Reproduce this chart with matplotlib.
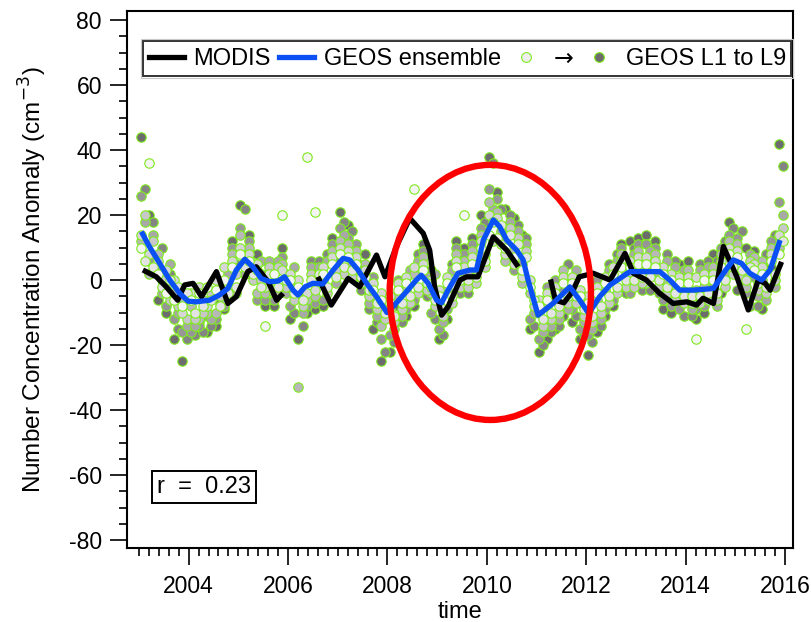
import numpy as np
import matplotlib
matplotlib.use('Agg')
import matplotlib.pyplot as plt
from matplotlib.patches import Ellipse, Rectangle
from matplotlib.lines import Line2D
from matplotlib.ticker import FixedLocator

plt.rcParams['font.family'] = ['Liberation Sans', 'DejaVu Sans']

# ---------------- data ----------------
modis_time = [2003.08, 2003.35, 2003.55, 2003.78, 2003.92, 2004.09, 2004.26, 2004.56,
              2004.79, 2004.96, 2005.19, 2005.36, 2005.60, 2005.77, 2005.90, 2006.20,
              2006.60, 2006.87, 2007.21, 2007.44, 2007.78, 2007.95, 2008.18, 2008.45,
              2008.72, 2008.85, 2008.95, 2009.09, 2009.22, 2009.46, 2009.59, 2009.82,
              2010.13, 2010.40, 2010.63, 2010.90, 2011.28, 2011.38, 2011.55, 2011.72,
              2011.86, 2012.14, 2012.48, 2012.78, 2012.95, 2013.21, 2013.48, 2013.75,
              2014.02, 2014.22, 2014.35, 2014.56, 2014.76, 2015.03, 2015.26, 2015.46,
              2015.60, 2015.70, 2015.93]
modis_value = [3.1, 1, -2.1, -6.2, -1.5, -1, -5.1, 2.6,
               -7.2, -5.1, 2.6, 4.1, -0.5, -6.2, -4.1, np.nan,
               1, -7.7, 0.5, -2.1, 7.7, 1, 10.3, 19,
               14.4, 9.2, -2.1, -10.8, -8.2, 0, 1, 1,
               13.3, 9.2, 4.1, np.nan, 0.2, -6.2, -7, -3.6,
               1, 2.1, 0, 8.2, 2.1, 0, -4.1, -7.2,
               -6.7, -7.7, -5.6, -7.2, 10.3, 1, -9.2, 0,
               -1, -3.1, 5.6]

ensemble_time = [2003.05, 2003.21, 2003.42, 2003.62, 2003.82, 2003.99, 2004.15, 2004.42,
                 2004.62, 2004.79, 2004.96, 2005.13, 2005.29, 2005.46, 2005.63, 2005.80,
                 2005.93, 2006.10, 2006.20, 2006.34, 2006.50, 2006.70, 2006.91, 2007.11,
                 2007.24, 2007.41, 2007.58, 2007.78, 2007.99, 2008.11, 2008.38, 2008.58,
                 2008.68, 2008.82, 2008.99, 2009.09, 2009.22, 2009.42, 2009.66, 2009.79,
                 2009.93, 2010.13, 2010.26, 2010.40, 2010.60, 2010.73, 2010.83, 2011.03,
                 2011.33, 2011.67, 2011.87, 2012.05, 2012.27, 2012.48, 2012.88, 2013.48,
                 2013.68, 2013.88, 2014.15, 2014.56, 2014.76, 2014.96, 2015.13, 2015.29,
                 2015.53, 2015.70, 2015.90]
ensemble_value = [14.9, 10.3, 5.1, 0, -4.1, -6.5, -6.7, -6.2,
                  -4.6, -2.6, 3.1, 6.4, 4.1, 0.5, -0.5, -0.3,
                  1, -3.1, -4.6, -2.1, -1, -1.2, 3.1, 6.7,
                  6.2, 3.1, -1, -5.1, -10, -8.2, -3.6, 0,
                  1.5, -1, -6.2, -7, -3.1, 2.1, 3.1, 3.1,
                  12.3, 18.5, 16.4, 12.3, 9.2, 6.2, 0, -10.8,
                  -7.2, -2.1, -6.2, -10.3, -5.1, -1.5, 2.6, 2.6,
                  0, -3.1, -3.1, -2.6, 2.1, 6.2, 5.1, 2.1,
                  0, 3.1, 12.3]

# GEOS levels, one value every two months; odd levels on odd months, even levels on even months
odd_level_time = 2003 + (np.arange(78) * 2 + 0.5) / 12
even_level_time = 2003 + (np.arange(78) * 2 + 1.5) / 12
L1 = [10, 36, 2, -4, -6, -8, -6, -4, -2, -3, 0, 4, 8, 6, 3, -14, 2, 20, 0, -2,
      38, 21, 2, 5, 8, 7, 5, 1, -3, -6, -7, -3, -1, 28, 3, -2, -5, -1, 4, 20,
      5, 10, 14, 13, 10, 7, 3, -2, -8, -6, -4, -1, -1, -5, -7, -4, -1, 2, 4, 4,
      5, 5, 4, 2, 0, -1, -1, -18, 0, 0, 4, 8, 7, -15, 3, 2, 6, 8]
L2 = [6, 4, -2, 0, -2, -4, -10, -8, -6, -8, -4, -2, 4, 2, -2, 2, -2, 0, -4, -6,
      0, 2, -2, 1, 4, 3, 1, -3, -7, -10, -11, -7, -5, -2, -1, -6, -9, -5, 0, 0,
      1, 6, 18, 17, 14, 11, 7, -6, -12, -10, -8, -5, -5, -9, -11, -8, -5, -2, 0, 0,
      1, 1, 0, -2, -4, -5, -5, -5, -4, -4, 0, 4, 3, 4, -1, -2, 2, 12]
L3 = [14, 8, 6, 3, 0, -10, -4, -2, -8, 0, 4, 6, 10, 8, 5, -2, 0, 3, 2, 0,
      -4, -3, 4, 7, 10, 9, 7, 3, -1, -4, -5, -1, 1, 4, 5, 0, -3, 1, 6, 4,
      7, 12, 20, 19, 8, 5, 1, 0, -6, -4, -2, 1, 1, -3, -5, -2, 1, 4, 6, 6,
      7, 7, 6, 4, 2, 1, 1, 1, 2, 2, 6, 10, 9, 0, 5, 4, 8, 14]
L4 = [20, 12, 0, -6, -8, -12, -12, -10, -4, -5, -2, 2, 6, 0, 0, 4, 4, -2, -6, -8,
      2, 0, -4, 3, 2, 1, -1, -5, -9, -12, -13, -9, -7, -4, -3, -8, -11, -7, -2, -2,
      -1, 4, 12, 11, 16, 13, 9, -8, -14, -12, -10, -7, -7, -11, -13, -10, -7, -4, -2, -2,
      -1, 3, -2, -4, -6, -7, -7, -7, -6, -6, -2, 2, 1, 6, -3, -4, 0, 16]
L5 = [12, 2, 8, -2, -4, -6, -8, -12, -10, -10, -6, 8, 14, 10, -4, -4, -4, 5, -2, -33,
      -6, -5, 0, 9, 12, 11, 9, 5, -5, -14, -9, -5, -3, 2, 7, -4, -7, -3, 8, 6,
      9, 14, 24, 21, 6, 9, -1, -4, -10, -8, -6, 3, -3, -7, -9, -6, -3, 0, 8, 2,
      9, -1, 8, 0, -2, -3, 3, -3, -2, 4, 8, 12, 11, -2, 7, 6, 10, 10]
L6 = [18, 14, -4, 5, -10, -14, -14, -6, -12, -2, 2, -4, 2, 4, 6, 6, 6, -4, 4, -10,
      4, 4, 6, -1, 14, 5, 3, -7, -11, -8, -15, -11, 3, 6, 1, 2, -13, 3, 2, 2,
      3, 8, 22, 15, 18, 15, 11, -10, -16, -14, -12, -9, 3, -13, -15, -12, 3, 6, 2, 8,
      3, 9, 2, 6, 4, 3, -9, 3, 4, -8, 2, 6, -1, 8, -5, -6, -2, 20]
L7 = [26, 6, 4, -8, -12, -16, -16, -14, -11, -12, -8, 10, 16, 12, -6, -6, -6, 7, -8, -4,
      -8, -7, -6, 11, 16, 13, 11, 0, 1, -18, -17, 0, -9, -6, 9, -10, -15, -9, 10, 8,
      11, 16, 28, 25, 12, 3, 5, -12, -18, -2, 0, -3, -9, -15, -17, 0, -9, -6, 10, -4,
      11, 11, 10, -6, -8, -9, -3, -9, -8, -2, 10, 14, 13, -4, 1, 0, 12, 24]
L8 = [28, 18, 10, 2, -15, -18, -17, -16, -14, -7, 3, 5, 22, 5, 2, 0, 3, 2, -10, -14,
      6, 6, 8, 6, 18, 15, -3, -9, -13, -22, -19, -13, 2, 8, -5, -12, -17, 5, -4, -4,
      6, 18, 36, 22, 20, 17, 13, -14, -20, -16, -14, 5, -11, -17, -19, -14, 5, 8, -4, 10,
      -3, -3, -4, 8, 6, -11, -11, 5, 6, 6, 12, 16, 15, -8, -8, 8, 14, 35]
L9 = [44, 20, -6, -10, -18, -25, -15, -13, -16, -14, -9, 12, 23, 14, 8, -8, -8, 10, -12, -18,
      -10, -9, -8, 13, 21, 17, 6, 8, -15, -25, -22, -8, -11, -8, 11, 3, -18, -12, 12, 10,
      13, 20, 38, 27, 22, 19, 14, -15, -22, -18, -15, -11, -13, -18, -23, -16, -11, -8, 11, 12,
      13, 14, 12, -9, -10, 5, 6, -12, -10, 8, -4, 18, -3, 10, 9, -9, 4, 42]
levels = [L1, L2, L3, L4, L5, L6, L7, L8, L9]
level_times = [odd_level_time, even_level_time] * 4 + [odd_level_time]
level_colors = ['#f4f4f4', '#e4e4e4', '#d6d6d6', '#c8c8c8', '#b8b8b8',
                '#a8a8a8', '#969696', '#848484', '#6c6c6c']

year_ticks = [2004, 2006, 2008, 2010, 2012, 2014, 2016]
y_ticks = [-80, -60, -40, -20, 0, 20, 40, 60, 80]

# ---------------- figure ----------------
fig = plt.figure(figsize=(8.12, 6.22), dpi=100)
ax = fig.add_axes([127 / 812, 1 - 547.5 / 622, 666 / 812, 536.5 / 622])

green = '#7FEA1E'
for t, vals, col in list(zip(level_times, levels, level_colors))[::-1]:
    ax.scatter(t, vals, s=46, facecolor=col, edgecolor=green,
               linewidth=0.8, zorder=2)

ax.plot(modis_time, modis_value, color='black', lw=3.8, zorder=3,
        solid_joinstyle='round', solid_capstyle='butt')
ax.plot(ensemble_time, ensemble_value, color='#0A50F5', lw=3.8, zorder=4,
        solid_joinstyle='round', solid_capstyle='butt')

ax.add_patch(Ellipse((2010.07, -3.8), width=4.05, height=78.5, fill=False,
                     edgecolor='#FF0000', lw=4.6, zorder=5))

ax.set_xlim(2002.76, 2016.16)
ax.set_ylim(-82.3, 82.8)

ax.xaxis.set_major_locator(FixedLocator(year_ticks))
ax.xaxis.set_minor_locator(FixedLocator(np.arange(2003, 2016.01, 0.2)))
ax.yaxis.set_major_locator(FixedLocator(y_ticks))
ax.yaxis.set_minor_locator(FixedLocator(np.arange(-80, 81, 5)))
ax.set_xticklabels([str(t) for t in year_ticks])
ax.set_yticklabels([str(t) for t in y_ticks])

ax.tick_params(which='major', direction='out', length=12, width=1.2,
               labelsize=16.5, pad=6)
ax.tick_params(which='minor', direction='out', length=6, width=1.2)
ax.tick_params(axis='x', which='major', pad=8)
for sp in ax.spines.values():
    sp.set_linewidth(1.5)

ax.set_xlabel('time', fontsize=17, labelpad=2)
ax.set_ylabel('Number Concentration Anomaly (cm$^{-3}$)', fontsize=17.5, labelpad=14)

# legend
handles = [Line2D([], [], color='black', lw=3.8),
           Line2D([], [], color='#0A50F5', lw=3.8),
           Line2D([], [], ls='none', marker='o', ms=7, mfc='#eeeeee', mec=green, mew=0.8),
           Line2D([], [], ls='none', marker='o', ms=7, mfc='#6c6c6c', mec=green, mew=0.8)]
labels = ['MODIS', 'GEOS ensemble', '\u2192', 'GEOS L1 to L9']
leg = ax.legend(handles, labels, ncol=4, loc='center',
                bbox_to_anchor=(0.511, 0.9115), fontsize=17,
                frameon=True, fancybox=False, edgecolor='black',
                handlelength=1.5, handletextpad=0.4, columnspacing=0.33,
                borderpad=0.22, borderaxespad=0)
leg.get_frame().set_linewidth(1.4)
leg.set_zorder(10)
leg.get_texts()[2].set_fontfamily(['DejaVu Sans'])

# r box
ax.text(0.1156, 0.1128, 'r  =  0.23', transform=ax.transAxes, fontsize=17,
        ha='center', va='center', zorder=10,
        bbox=dict(boxstyle='square,pad=0.22', fc='white', ec='black', lw=1.4))

fig.canvas.draw()
bb = leg.get_window_extent()
fig.patches.append(Rectangle((bb.x0 - 2, bb.y0 - 2), bb.width + 4, bb.height + 4,
                             transform=None, fill=False, edgecolor='#c8c8c8',
                             lw=0.8, zorder=11))

fig.savefig('out.png', dpi=100)
